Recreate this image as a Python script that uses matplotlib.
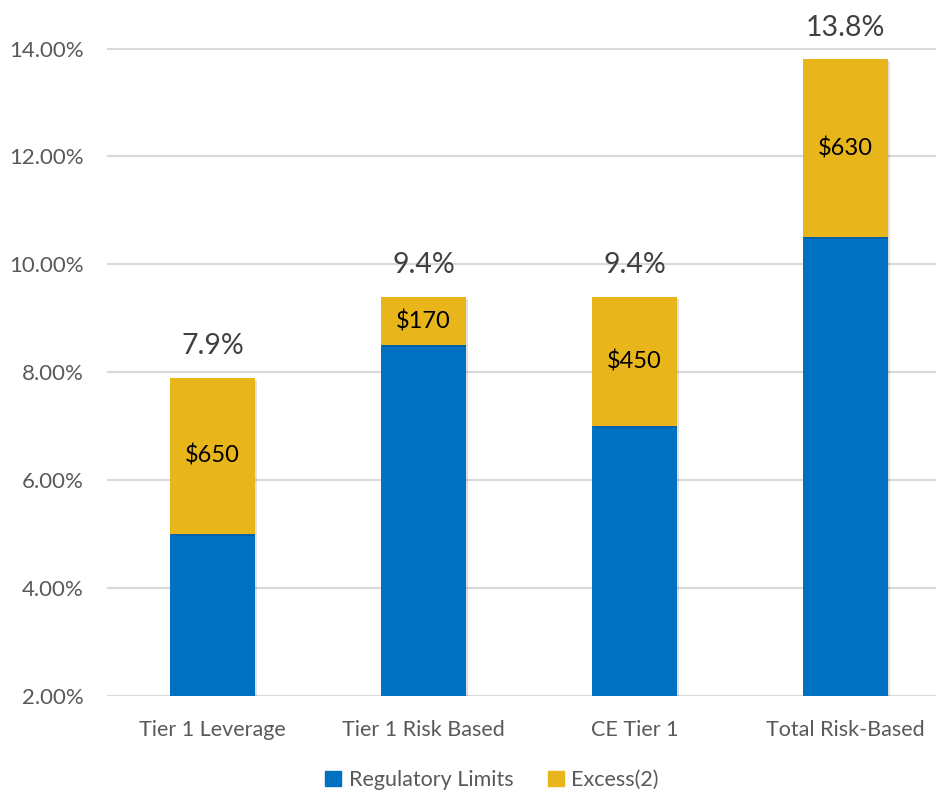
import matplotlib
matplotlib.use("Agg")
import matplotlib.pyplot as plt
import matplotlib.patheffects as pe
from matplotlib.patches import Patch

categories = ["Tier 1 Leverage", "Tier 1 Risk Based", "CE Tier 1", "Total Risk-Based"]
regulatory = [5.0, 8.5, 7.0, 10.5]
excess = [2.9, 0.9, 2.4, 3.3]
totals = [7.9, 9.4, 9.4, 13.8]
excess_labels = ["$650", "$170", "$450", "$630"]
total_labels = ["7.9%", "9.4%", "9.4%", "13.8%"]
yticks = [2, 4, 6, 8, 10, 12, 14]

BLUE = "#0070C0"
GOLD = "#E8B61A"
font = ["Lato", "DejaVu Sans"]
plt.rcParams["font.family"] = font

fig = plt.figure(figsize=(9.36, 7.92), dpi=100)
ax = fig.add_axes([107/936, 96/792, 844/936, 696/792])

x = list(range(len(categories)))
w = 0.403
shadow = [pe.SimplePatchShadow(offset=(1.5, -1.5), shadow_rgbFace="#000000", alpha=0.12), pe.Normal()]
base = 2.0
b1 = ax.bar(x, [r - base for r in regulatory], w, bottom=base, color=BLUE, zorder=3, label="Regulatory Limits")
b2 = ax.bar(x, excess, w, bottom=regulatory, color=GOLD, zorder=3, label="Excess(2)")
for p in list(b1) + list(b2):
    p.set_path_effects(shadow)

for i in x:
    ax.text(i, regulatory[i] + excess[i] / 2, excess_labels[i], ha="center", va="center",
            fontsize=17, color="black", zorder=4)
    ax.annotate(total_labels[i], (i, totals[i]), xytext=(0, 17), textcoords="offset points",
                ha="center", va="baseline", fontsize=20.5, color="#404040")

ax.set_xlim(-0.5, 3.5)
ax.set_ylim(2, 14.9)
ax.set_yticks(yticks)
ax.set_yticklabels([f"{v:.2f}%" for v in yticks])
ax.set_xticks(x)
ax.set_xticklabels(categories)
ax.tick_params(axis="y", length=0, pad=17, labelsize=16, labelcolor="#595959")
ax.tick_params(axis="x", length=0, pad=17, labelsize=15.5, labelcolor="#595959")
ax.yaxis.grid(True, color="#D9D9D9", linewidth=1.5, zorder=0)
ax.set_axisbelow(True)
for s in ax.spines.values():
    s.set_visible(False)

handles = [Patch(color=BLUE, label="Regulatory Limits"), Patch(color=GOLD, label="Excess(2)")]
fig.legend(handles=handles, loc="center", bbox_to_anchor=(492/936, 1 - 780/792), ncol=2,
           frameon=False, fontsize=15.5, handlelength=0.75, handleheight=0.75,
           handletextpad=0.35, columnspacing=1.6, labelcolor="#595959")

fig.savefig("out.png", dpi=100)
